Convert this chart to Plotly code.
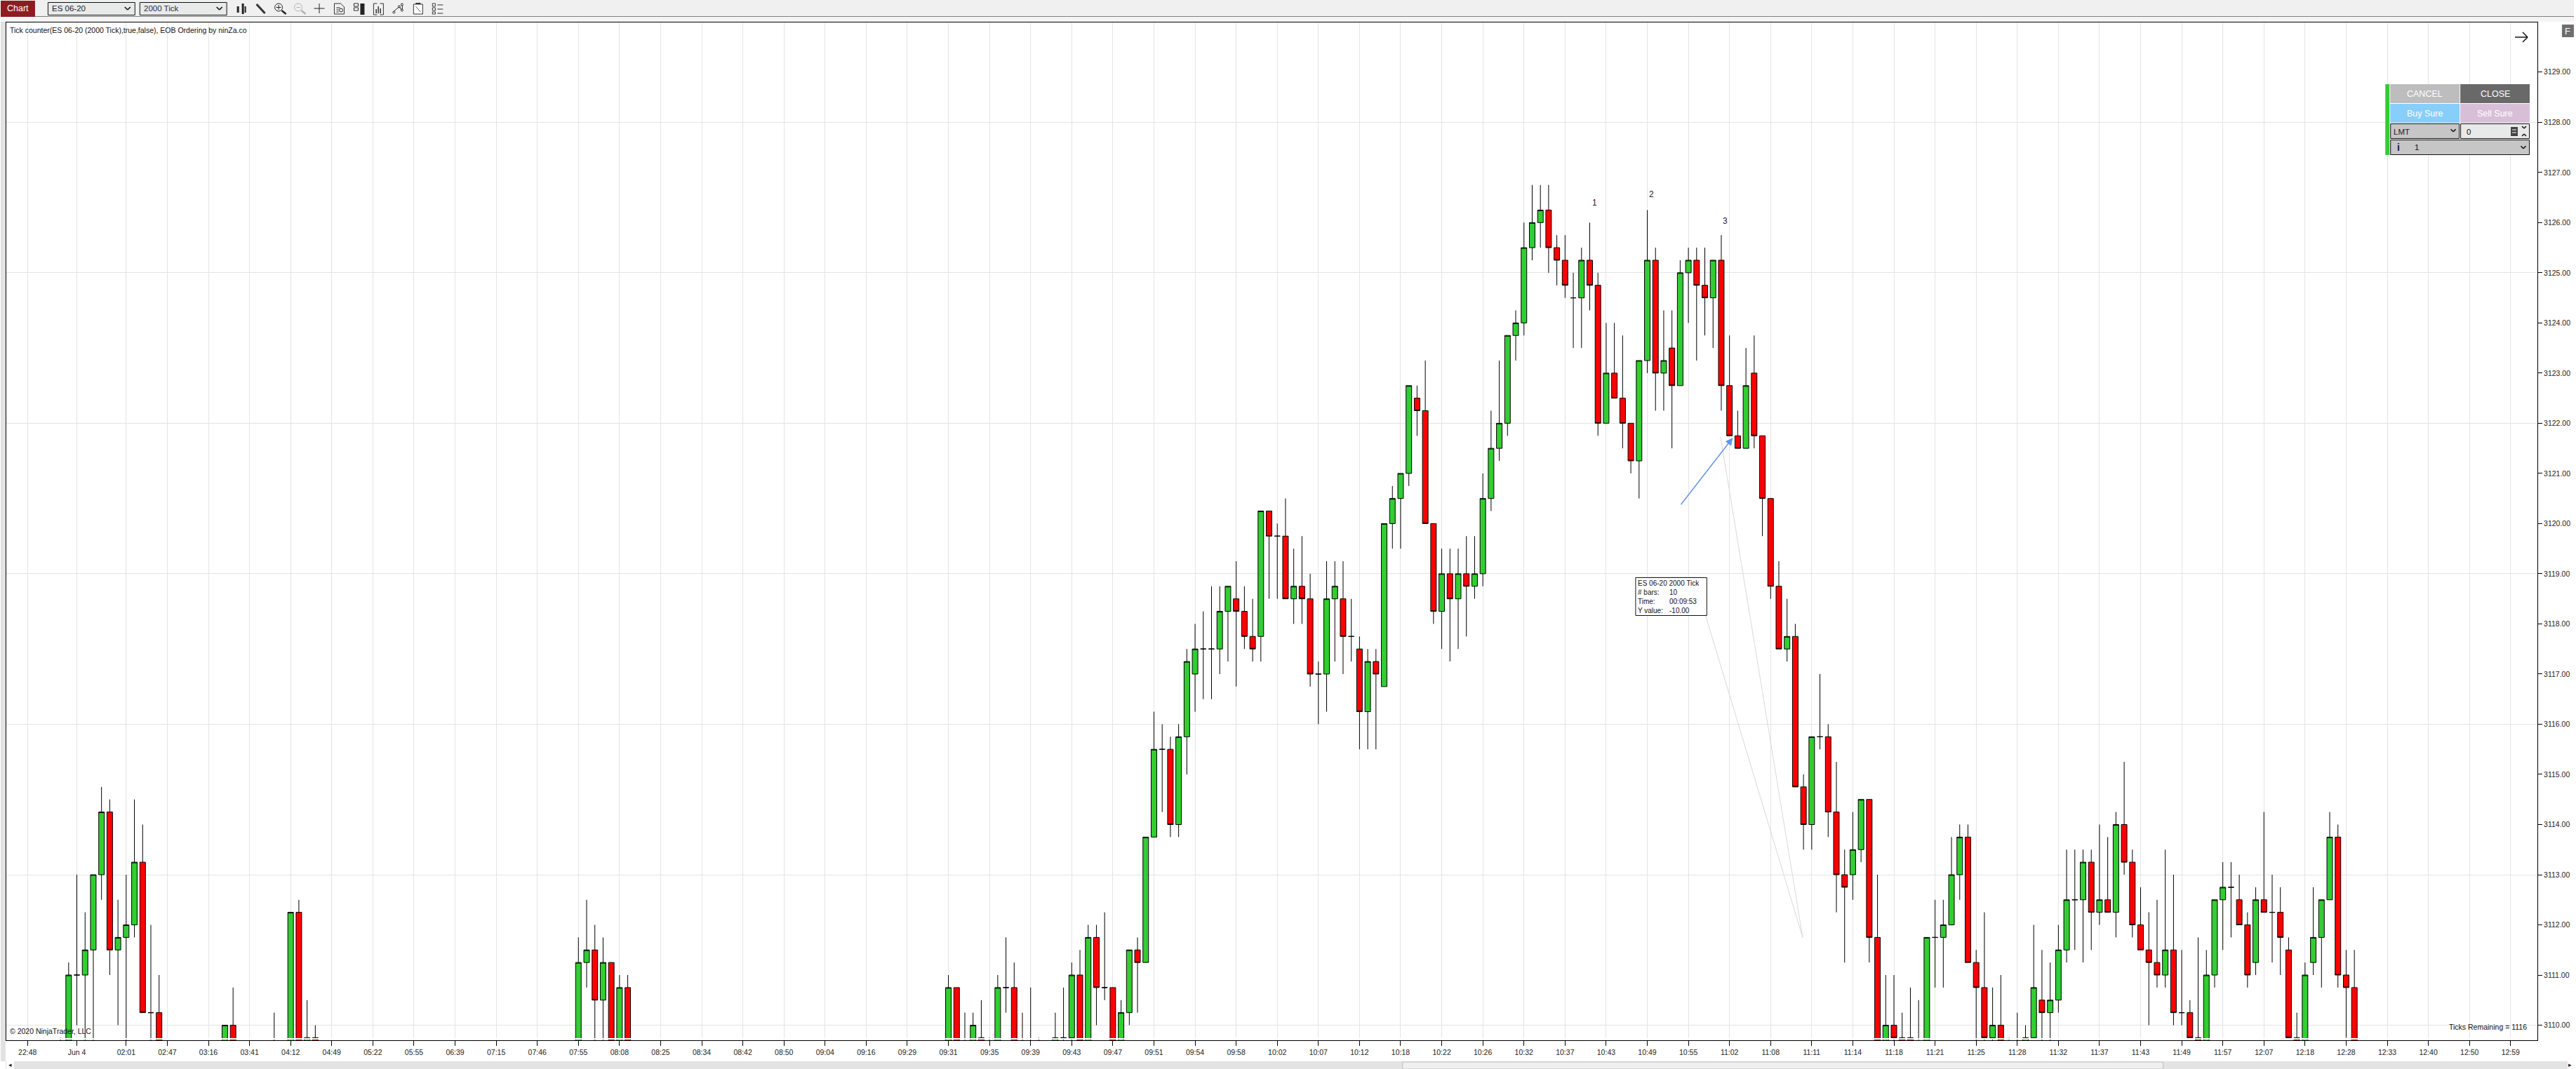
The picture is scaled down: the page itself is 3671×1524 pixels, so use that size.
import plotly.graph_objects as go

# ES 06-20, 2000 tick bars. The chart is drawn on bar numbers, not on time
c = 3109.5  # bars run off the bottom of the panel here

bar_pos = (list(range(4, 17)) + [24, 25, 30] + list(range(32, 36)) + list(range(67, 74))
           + list(range(112, 124)) + list(range(125, 284)))

opens = [c, c, 3111, 3111, 3111.5, 3113, 3114.25, 3111.5, 3111.75, 3112, 3113.25, 3110.25, 3110.25,
         c, 3110, c,
         c, 3112.25, c, 3109.75,
         c, 3111.25, 3111.5, 3110.5, 3111.25, c, 3110.75,
         c, 3110.75, c, c, 3109.75, c, c, 3110.75, 3110.75, c, c, c,
         c, 3109.75, 3109.75, 3111, c, 3111.75, 3110.75, 3110.75, c, 3110.25, 3111.5, 3111.25,
         3113.75, 3115.5, 3115.5, 3114, 3115.75, 3117, 3117.5, 3117.5, 3117.5, 3118.25,
         3118.5, 3118.25, 3117.75, 3117.75, 3120.25, 3119.75, 3119.75, 3118.5, 3118.75, 3118.5,
         3117, 3117, 3118.5, 3118.5, 3117.75, 3117.5, 3116.25, 3117.25, 3116.75, 3120,
         3120.5, 3121, 3122.5, 3122.25, 3120, 3118.25, 3119, 3118.5, 3119, 3118.75,
         3119, 3120.5, 3121.5, 3122, 3123.75, 3124, 3125.5, 3126, 3126.25, 3125.5,
         3125.25, 3124.5, 3124.5, 3125.25, 3124.75, 3122, 3123, 3122.5, 3122, 3121.25,
         3123.25, 3125.25, 3123, 3123.5, 3122.75, 3125, 3125.25, 3124.75, 3124.5, 3125.25,
         3122.75, 3121.75, 3121.5, 3123, 3121.75, 3120.5, 3118.75, 3117.5, 3117.75, 3114.75,
         3114, 3115.75, 3115.75, 3114.25, 3113, 3113, 3113.5, 3114.5, 3111.75, c,
         3110, 3109.75, 3109.75, c, c, 3111.75, 3111.75, 3112, 3113, 3113.75,
         3111.25, 3110.75, 3109.75, 3110, c, c, c, 3109.75, 3110.5, 3110.25,
         3110.5, 3111.5, 3112.5, 3112.5, 3113.25, 3112.25, 3112.5, 3112.25, 3114, 3113.25,
         3112, 3111.5, 3111.25, 3111, 3111.5, 3110.25, 3110.25, 3109.75, c, 3111,
         3112.5, 3112.75, 3112.5, 3112, 3111.25, 3112.5, 3112.25, 3112.25, 3111.5, 3109.75,
         c, 3111.25, 3111.75, 3112.5, 3113.75, 3111, 3110.75]

highs = [3109.75, 3111.25, 3113, 3112.25, 3113, 3114.75, 3114.5, 3112.5, 3113, 3114.5, 3114, 3112, 3111,
         3110, 3110.75, 3110.25,
         3112.25, 3112.5, 3110.5, 3110,
         3111.75, 3112.5, 3112, 3111.75, 3111.25, 3111, 3111,
         3111, 3110.75, 3110.25, 3110.25, 3110.5, 3109.75, 3111, 3111.75, 3111.25, 3110.25, 3110.75, 3109.75,
         3110.25, 3110.75, 3111.25, 3111.5, 3112, 3112, 3112.25, 3110.75, 3110.5, 3111.5, 3111.75, 3113.75,
         3116.25, 3116, 3115.75, 3116, 3117.5, 3118, 3118.25, 3118.75, 3118.75, 3118.75,
         3119.25, 3118.75, 3118.5, 3120.25, 3120.25, 3120, 3120.5, 3119.5, 3119.75, 3119,
         3117.25, 3119.25, 3119.25, 3119.25, 3118.5, 3117.75, 3117.5, 3117.5, 3120, 3120.75,
         3121, 3122.75, 3122.75, 3123.25, 3120, 3119.5, 3119.5, 3119.5, 3119.75, 3119.75,
         3121, 3122.25, 3123.25, 3123.75, 3124.25, 3126, 3126.75, 3126.75, 3126.75, 3125.75,
         3125.75, 3125, 3125.5, 3126, 3125, 3124, 3124, 3123.75, 3122, 3123.25,
         3126.25, 3125.5, 3124.25, 3124.25, 3125.25, 3125.5, 3125.5, 3125.5, 3125.25, 3125.75,
         3123.75, 3122.25, 3123.5, 3123.75, 3121.75, 3120.5, 3119.25, 3118.5, 3118, 3115,
         3115.75, 3117, 3116, 3115.25, 3113.5, 3114.25, 3114.5, 3114.5, 3113, 3111,
         3111, 3110.25, 3110.75, 3110.5, 3111.75, 3112.5, 3112.5, 3113.75, 3114, 3114,
         3111.5, 3112.25, 3110.75, 3111, 3109.75, 3110.25, 3110, 3112, 3111.5, 3111.25,
         3112, 3113.5, 3113.5, 3113.5, 3113.5, 3114, 3113.75, 3114.25, 3115.25, 3113.5,
         3112.75, 3112.25, 3112.5, 3113.5, 3113, 3111.5, 3110.5, 3111.75, 3111.5, 3112.5,
         3113.25, 3113.25, 3113, 3112.25, 3112.75, 3114.25, 3113, 3112.75, 3111.75, 3110.25,
         3111.25, 3112.75, 3112.5, 3114.25, 3114, 3111.5, 3111.5]

lows = [c, c, 3110, c, c, 3112.5, 3111, 3110, c, 3111.75, 3110.25, c, c,
        c, c, c,
        c, c, c, c,
        c, 3110.75, c, c, c, c, c,
        c, c, c, c, c, c, c, 3110.25, c, c, c, c,
        c, c, c, c, c, 3110, 3110.5, c, c, 3110, 3110.25, 3111.25,
        3113.75, 3114.25, 3113.75, 3113.75, 3115, 3116.25, 3116.5, 3116.5, 3117, 3117.25,
        3116.75, 3117.5, 3117.25, 3117.25, 3118.5, 3118.5, 3118.5, 3118, 3118, 3116.75,
        3116, 3116.25, 3117.25, 3117, 3117.25, 3115.5, 3115.5, 3115.5, 3116.75, 3119.5,
        3119.5, 3120.75, 3121.75, 3120, 3118, 3117.5, 3117.25, 3117.5, 3117.75, 3118.5,
        3118.75, 3120.25, 3121.25, 3121.75, 3123.25, 3123.75, 3125.25, 3125.5, 3125, 3124.75,
        3124.5, 3123.5, 3123.5, 3124.25, 3121.75, 3122, 3122.5, 3121.5, 3121, 3120.5,
        3123, 3122.25, 3122.25, 3121.5, 3122.75, 3124, 3123.25, 3123.75, 3123.5, 3122.25,
        3121.75, 3121.5, 3121.5, 3121.5, 3119.75, 3118.5, 3117.5, 3117.25, 3114.75, 3113.5,
        3113.5, 3115.5, 3113.75, 3112.25, 3111.25, 3112.5, 3113.25, 3111.25, c, c,
        c, c, c, c, c, 3110.75, 3110.75, 3112, 3112.5, 3111.25,
        c, c, c, c, c, c, c, 3109.75, c, c,
        3110.25, 3111.25, 3111.5, 3111.25, 3111.5, 3112, 3112.25, 3111.75, 3113, 3111.75,
        3111.5, 3110, 3110.75, 3110.75, 3110, 3110, 3109.75, c, c, 3110.75,
        3111.5, 3111.75, 3112, 3110.75, 3111, 3112.25, 3111.25, 3111, 3109.75, c,
        c, 3111, 3110.75, 3112.5, 3110.75, 3109.75, c]

closes = [c, 3111, 3111, 3111.5, 3113, 3114.25, 3111.5, 3111.75, 3112, 3113.25, 3110.25, 3110.25, c,
          3110, c, c,
          3112.25, c, 3109.75, c,
          3111.25, 3111.5, 3110.5, 3111.25, c, 3110.75, c,
          3110.75, c, c, 3110, c, c, 3110.75, 3110.75, c, c, c, c,
          3109.75, 3109.75, 3111, c, 3111.75, 3110.75, 3110.75, c, 3110.25, 3111.5, 3111.25, 3113.75,
          3115.5, 3115.5, 3114, 3115.75, 3117.25, 3117.5, 3117.5, 3117.5, 3118.25, 3118.75,
          3118.25, 3117.75, 3117.5, 3120.25, 3119.75, 3119.75, 3118.5, 3118.75, 3118.5, 3117,
          3117, 3118.5, 3118.75, 3117.75, 3117.75, 3116.25, 3117.25, 3117, 3120, 3120.5,
          3121, 3122.75, 3122.25, 3120, 3118.25, 3119, 3118.5, 3119, 3118.75, 3119,
          3120.5, 3121.5, 3122, 3123.75, 3124, 3125.5, 3126, 3126.25, 3125.5, 3125.25,
          3124.75, 3124.5, 3125.25, 3124.75, 3122, 3123, 3122.5, 3122, 3121.25, 3123.25,
          3125.25, 3123, 3123.25, 3122.75, 3125, 3125.25, 3124.75, 3124.5, 3125.25, 3122.75,
          3121.75, 3121.5, 3122.75, 3121.75, 3120.5, 3118.75, 3117.5, 3117.75, 3114.75, 3114,
          3115.75, 3115.75, 3114.25, 3113, 3112.75, 3113.5, 3114.5, 3111.75, c, 3110,
          3109.75, c, c, c, 3111.75, 3111.75, 3112, 3113, 3113.75, 3111.25,
          3110.75, 3109.75, 3110, c, c, c, 3109.75, 3110.75, 3110.25, 3110.5,
          3111.5, 3112.5, 3112.5, 3113.25, 3112.25, 3112.5, 3112.25, 3114, 3113.25, 3112,
          3111.5, 3111.25, 3111, 3111.5, 3110.25, 3110.25, 3109.75, c, 3111, 3112.5,
          3112.75, 3112.75, 3112, 3111, 3112.5, 3112.25, 3112.25, 3111.75, 3109.75, c,
          3111, 3111.75, 3112.5, 3113.75, 3111, 3110.75, c]

tick_pos = [0, 6] + list(range(12, 303, 5))
tick_labels = ["22:48", "Jun 4", "02:01", "02:47", "03:16", "03:41", "04:12", "04:49", "05:22", "05:55",
               "06:39", "07:15", "07:46", "07:55", "08:08", "08:25", "08:34", "08:42", "08:50", "09:04",
               "09:16", "09:29", "09:31", "09:35", "09:39", "09:43", "09:47", "09:51", "09:54", "09:58",
               "10:02", "10:07", "10:12", "10:18", "10:22", "10:26", "10:32", "10:37", "10:43", "10:49",
               "10:55", "11:02", "11:08", "11:11", "11:14", "11:18", "11:21", "11:25", "11:28", "11:32",
               "11:37", "11:43", "11:49", "11:57", "12:07", "12:18", "12:28", "12:33", "12:40", "12:50",
               "12:59"]
price_ticks = list(range(3110, 3130))
price_grid = list(range(3110, 3129, 3))

# size of the panel in the 3671x1524 window
W, H = 3671, 1524
L, R, T, B = 8, 3619, 32, 1483
FONT = "Liberation Sans"

fig = go.Figure(go.Candlestick(
    x=bar_pos, open=opens, high=highs, low=lows, close=closes,
    increasing=dict(fillcolor="#32CD32", line=dict(color="black", width=1)),
    decreasing=dict(fillcolor="#FF0000", line=dict(color="black", width=1)),
    whiskerwidth=0, hoverinfo="skip", showlegend=False,
))


# window pixels to paper coordinates, for everything that is not chart data
def xp(px):
    return (px - L) / (R - L)


def yp(py):
    return 1 - (py - T) / (B - T)


shapes = []


def box(x0, y0, x1, y1, fill, line=None, w=1):
    shapes.append(dict(type="rect", xref="paper", yref="paper", x0=xp(x0), y0=yp(y0), x1=xp(x1), y1=yp(y1),
                       fillcolor=fill, line=dict(color=line or fill, width=w if line else 0), layer="above"))


def seg(x0, y0, x1, y1, color="#222222", w=1):
    shapes.append(dict(type="line", xref="paper", yref="paper", x0=xp(x0), y0=yp(y0), x1=xp(x1), y1=yp(y1),
                       line=dict(color=color, width=w), layer="above"))


def ring(x0, y0, x1, y1, color="#222222", w=1):
    shapes.append(dict(type="circle", xref="paper", yref="paper", x0=xp(x0), y0=yp(y0), x1=xp(x1), y1=yp(y1),
                       line=dict(color=color, width=w), fillcolor="rgba(0,0,0,0)", layer="above"))


def chevron(x, y, size=3.5, color="#111111"):
    seg(x - size, y - size / 2, x, y + size / 2, color, 1.6)
    seg(x, y + size / 2, x + size, y - size / 2, color, 1.6)


annos = []


def label(px, py, text, size=10.5, color="#111111", anchor="left", **kw):
    annos.append(dict(xref="paper", yref="paper", x=xp(px), y=yp(py), text=text, showarrow=False,
                      xanchor=anchor, yanchor="middle", font=dict(family=FONT, size=size, color=color), **kw))


# candles stop a little above the axis line
box(L + 1, B - 3, R - 1, B - 1, "white")

# toolbar
box(0, 0, W, 24, "#f0f0f0")
seg(0, 24, W, 24, "#111111", 1)
box(0, 24, W, 31, "#f4f4f4")
box(0, 31, 7, 1513, "#e2e2e2")
box(0, 1, 49, 24, "#8c1c20")
label(24.5, 12.5, "Chart", 12.5, "white", "center")
box(67.5, 3.5, 191.5, 21.5, "#e8eaea", "#111111")
label(71, 12.5, "ES 06-20", 11.5, "#1a1a2a")
chevron(181, 12, 4)
box(198.5, 3.5, 322.5, 21.5, "#e8eaea", "#111111")
label(202, 12.5, "2000 Tick", 11.5, "#2a2a4a")
chevron(312, 12, 4)

# toolbar icons
box(337, 9, 340, 18, "#222222")
box(344, 5, 347, 20, "#222222")
box(348, 9, 350, 18, "#222222")
seg(365, 6, 377, 19, "#333333", 3)
ring(391, 5, 402, 16)
seg(401, 15, 407, 20, "#222222", 2.5)
seg(393, 10.5, 400, 10.5)
seg(396.5, 7, 396.5, 14)
ring(419, 5, 430, 16, "#b0b0b0")
seg(429, 15, 435, 20, "#b0b0b0", 2.5)
seg(422, 10.5, 427, 10.5, "#b0b0b0")
seg(447, 12, 462, 12)
seg(454.5, 5, 454.5, 19)
shapes.append(dict(type="path", xref="paper", yref="paper", layer="above", line=dict(color="#333333", width=1),
                   path=f"M {xp(476)} {yp(20)} L {xp(476)} {yp(5)} L {xp(485)} {yp(5)} L {xp(490)} {yp(10)} "
                        f"L {xp(490)} {yp(20)} Z"))
ring(483, 12, 488, 17)
seg(479, 11, 484, 11)
seg(479, 14, 482, 14)
seg(479, 17, 482, 17)
box(513, 5, 519, 21, "#222222")
box(504, 5, 510, 9, "white", "#222222")
box(504, 11, 510, 15, "white", "#222222")
seg(532, 5, 532, 21, "#333333")
seg(532, 5, 537, 5, "#333333")
seg(532, 21, 537, 21, "#333333")
seg(546, 5, 546, 21, "#333333")
seg(541, 5, 546, 5, "#333333")
seg(541, 21, 546, 21, "#333333")
box(535, 13, 536.5, 19, "#333333")
box(538, 9, 539.5, 19, "#333333")
box(541, 12, 542.5, 19, "#333333")
ring(559.5, 16, 562.5, 19)
ring(567, 8, 570, 11)
ring(571, 13, 574, 16)
ring(571, 5, 574, 8)
seg(561, 16, 568, 10)
seg(569, 10, 572, 14)
seg(573, 13, 573, 8)
box(589, 6, 602, 20, "white", "#333333")
seg(592, 5, 599, 5, "#333333", 2)
seg(592, 9, 599, 17, "#666666")
box(616, 5, 620, 9, "white", "#333333")
box(616, 11, 620, 15, "white", "#333333")
box(616, 17, 620, 20, "white", "#333333")
seg(623, 7, 631, 7, "#333333")
seg(623, 13, 631, 13, "#333333")
seg(623, 19, 631, 19, "#333333")

# F button and arrow at the top right
box(3654, 35, 3671, 53, "#6e6e6e")
label(3662.5, 44, "F", 13, "white", "center")
seg(3587, 53, 3605, 53, "#111111", 1.5)
seg(3598, 46, 3605, 53, "#111111", 1.5)
seg(3598, 60, 3605, 53, "#111111", 1.5)

# order panel
box(3402, 120, 3408, 221, "#32CD32")
box(3409, 120, 3508, 147, "#bdbdbd")
box(3509, 120, 3608, 147, "#696969")
box(3409, 148, 3508, 175, "#87CEFA")
box(3509, 148, 3608, 175, "#D8BFD8")
box(3409.5, 176.5, 3507.5, 197.5, "#c6c6c6", "#111111")
box(3509.5, 176.5, 3607.5, 197.5, "#e8eaea", "#111111")
box(3409.5, 199.5, 3607.5, 220.5, "#c6c6c6", "#111111")
label(3458.5, 134, "CANCEL", 12.5, "white", "center")
label(3558.5, 134, "CLOSE", 12.5, "white", "center")
label(3458.5, 162, "Buy Sure", 12.5, "white", "center")
label(3558.5, 162, "Sell Sure", 12.5, "white", "center")
label(3412, 187.5, "LMT", 11.5, "#1a1a2a")
label(3516, 187.5, "0", 11.5)
label(3421, 210, "<b>i</b>", 14, "#102040", "center")
label(3442, 210, "1", 11.5)
chevron(3499, 186)
chevron(3599, 210)
box(3581, 181, 3591, 194, "#444444")
seg(3583, 185, 3589, 185, "white")
seg(3583, 189, 3589, 189, "white")
seg(3600, 183, 3603, 180, "#111111", 1.5)
seg(3600, 183, 3597, 180, "#111111", 1.5)
seg(3600, 191, 3603, 194, "#111111", 1.5)
seg(3600, 191, 3597, 194, "#111111", 1.5)

# scrollbar
box(7, 1513, W, H, "#e3e3e3")
box(2000, 1514, 3085, H, "#efefef", "#c0c0c0")
box(8, 1513, 19, H, "white")
label(14, 1518, "◂", 9, "#222222", "center")
box(3662, 1513, W, H, "white")
label(3666, 1518, "▸", 9, "#222222", "center")

# texts inside the panel
label(11, 43, "Tick counter(ES 06-20 (2000 Tick),true,false), EOB Ordering by ninZa.co")
label(11, 1470, "© 2020 NinjaTrader, LLC")
label(3606, 1464, "Ticks Remaining = 1116", anchor="right")

# measuring tool, drawn on the chart
for x_end, y_end in [(205.9, 3121.74), (204.1, 3118.16)]:
    shapes.append(dict(type="line", x0=215.9, y0=3111.75, x1=x_end, y1=y_end,
                       line=dict(color="#d9d9d9", width=1), layer="above"))
box(2332.5, 823.5, 2434, 877.5, "white", "#111111")
label(2334, 850.5, "ES 06-20 2000 Tick<br># bars:<br>Time:<br>Y value:", 10, align="left")
label(2379, 850.5, " <br>10<br>00:09:53<br>-10.00", 10, align="left")

# hand drawn marks
for x_mark, y_mark, txt in [(190.6, 3126.39, "1"), (197.5, 3126.57, "2"), (206.5, 3126.03, "3")]:
    annos.append(dict(x=x_mark, y=y_mark, text=txt, showarrow=False, font=dict(family=FONT, size=12, color="#222222")))
annos.append(dict(x=207.4, y=3121.71, ax=201.0, ay=3120.36, axref="x", ayref="y", text="", showarrow=True,
                  arrowhead=2, arrowsize=1.4, arrowwidth=1.5, arrowcolor="#6495ED"))

fig.update_layout(
    width=W, height=H, autosize=False,
    margin=dict(l=L, r=W - R, t=T, b=H - B, pad=0),
    paper_bgcolor="white", plot_bgcolor="white",
    font=dict(family=FONT, size=10.5, color="#222222"),
    boxgap=0.32, boxgroupgap=0, shapes=shapes, annotations=annos, hovermode=False, dragmode=False,
)
fig.update_xaxes(
    range=[-2.58, 305.26], tickmode="array", tickvals=tick_pos, ticktext=tick_labels, rangeslider_visible=False,
    showgrid=True, gridcolor="#e4e4e4", gridwidth=1, zeroline=False,
    ticks="outside", ticklen=7, tickcolor="black", showline=True, linecolor="black", linewidth=1, mirror=True,
)
fig.update_yaxes(
    range=[3109.70, 3129.99], side="right", tickmode="array", tickvals=price_ticks, tickformat=".2f",
    showgrid=False, zeroline=False, minor=dict(tickmode="array", tickvals=price_grid, showgrid=True,
                                              gridcolor="#e4e4e4", gridwidth=1, ticks=""),
    ticks="outside", ticklen=6, tickcolor="black", showline=True, linecolor="black", linewidth=1, mirror=True,
)

# the page has a default body margin, the chart fills the whole window
fig.write_html("out.html", config={"displayModeBar": False}, post_script="document.body.style.margin='0';")
